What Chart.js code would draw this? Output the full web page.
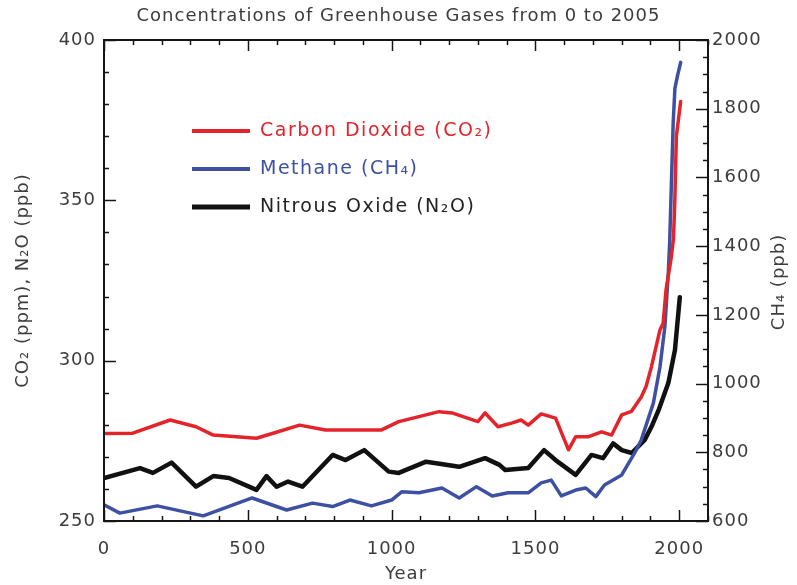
<!DOCTYPE html>
<html>
<head>
<meta charset="utf-8">
<title>Concentrations of Greenhouse Gases from 0 to 2005</title>
<script src="https://cdn.jsdelivr.net/npm/chart.js@4.4.1/dist/chart.umd.min.js"></script>
<style>
  html, body { margin: 0; padding: 0; background: #fff; }
  #wrap { width: 797px; height: 585px; }
</style>
</head>
<body>
<div id="wrap"><canvas id="chart" width="797" height="585"></canvas></div>
<script>
/* ── Data ── */
const co2Years  = [0, 100, 230, 320, 380, 530, 585, 680, 770, 965, 1025, 1165, 1210, 1300, 1325, 1370, 1420, 1450, 1475, 1520, 1570, 1615, 1640, 1685, 1730, 1765, 1800, 1834, 1868, 1885, 1903, 1933, 1944, 1954, 1972, 1980, 1985, 1990, 2005];
const co2Values = [277.3, 277.4, 281.5, 279.4, 276.8, 275.8, 277.3, 279.9, 278.4, 278.4, 281.0, 284.1, 283.7, 281.0, 283.7, 279.4, 280.6, 281.5, 279.9, 283.4, 282.1, 272.2, 276.3, 276.3, 277.8, 276.8, 283.1, 284.2, 288.7, 292, 298, 309.6, 311.7, 322, 332, 338, 351, 370, 380.8];

const ch4Years  = [0, 55, 185, 345, 515, 635, 725, 795, 855, 930, 1000, 1035, 1095, 1175, 1235, 1295, 1350, 1405, 1475, 1520, 1555, 1590, 1640, 1675, 1710, 1740, 1800, 1845, 1868, 1910, 1933, 1950, 1962, 1967, 1972, 1979, 1985, 1995, 2005];
const ch4Values = [647, 623, 644, 615, 667, 632, 652, 642, 661, 644, 661, 685, 682, 696, 667, 700, 673, 682, 682, 711, 719, 673, 690, 696, 671, 705, 734, 798, 836, 943, 1048, 1165, 1322, 1418, 1560, 1760, 1860, 1900, 1935];

const n2oYears  = [0, 125, 170, 235, 320, 380, 435, 530, 565, 600, 640, 690, 795, 840, 905, 990, 1025, 1120, 1235, 1325, 1375, 1395, 1475, 1530, 1570, 1640, 1695, 1735, 1770, 1800, 1835, 1880, 1903, 1930, 1962, 1985, 2002];
const n2oValues = [263.4, 266.5, 265, 268.2, 260.7, 264, 263.4, 259.7, 264, 260.7, 262.3, 260.7, 270.6, 269, 272.1, 265.4, 265, 268.5, 266.9, 269.6, 267.5, 265.9, 266.5, 272.1, 269, 264.4, 270.6, 269.6, 274.2, 272.1, 271.2, 275.3, 279.3, 285, 293, 303.3, 319.8];

const seriesLabels = ['Carbon Dioxide (CO₂)', 'Methane (CH₄)', 'Nitrous Oxide (N₂O)'];
const yearRange = [0, 2100];
const yearTicks = [0, 500, 1000, 1500, 2000];
const leftRange = [250, 400];
const leftTicks = [250, 300, 350, 400];
const rightRange = [600, 2000];
const rightTicks = [600, 800, 1000, 1200, 1400, 1600, 1800, 2000];

/* ── Look ── */
const FONT = "'DejaVu Sans', sans-serif";
const TEXT = '#3c3c3c';
const COLORS = { co2: '#e3242b', ch4: '#3e50a2', n2o: '#111111' };

const toPoints = (xs, ys) => xs.map((x, i) => ({ x, y: ys[i] }));
const fixedTicks = values => scale => { scale.ticks = values.map(value => ({ value })); };
const plain = v => String(v);

/* widen the glyphs a little, like the plotted Hershey font */
const spacing = {
  id: 'spacing',
  beforeDraw(chart) { chart.ctx.letterSpacing = '1px'; }
};

/* frame + inward tick marks, placed through the scales */
const frameTicks = {
  id: 'frameTicks',
  afterDatasetsDraw(chart) {
    const { ctx, chartArea: a, scales } = chart;
    const seg = (x1, y1, x2, y2) => { ctx.beginPath(); ctx.moveTo(x1, y1); ctx.lineTo(x2, y2); ctx.stroke(); };
    ctx.save();
    ctx.strokeStyle = '#151515';
    ctx.lineWidth = 1.5;
    for (let v = yearRange[0]; v <= yearRange[1]; v += 100) {
      const px = Math.round(scales.x.getPixelForValue(v)) + 0.5;
      const len = v % 500 === 0 ? 11 : 5;
      seg(px, a.bottom, px, a.bottom - len);
      seg(px, a.top, px, a.top + len);
    }
    for (let v = leftRange[0]; v <= leftRange[1]; v += 10) {
      const py = Math.round(scales.y.getPixelForValue(v)) + 0.5;
      seg(a.left, py, a.left + (v % 50 === 0 ? 12 : 5), py);
    }
    for (let v = rightRange[0]; v <= rightRange[1]; v += 50) {
      const py = Math.round(scales.y1.getPixelForValue(v)) + 0.5;
      seg(a.right, py, a.right - (v % 200 === 0 ? 12 : 5), py);
    }
    ctx.lineWidth = 2;
    ctx.strokeRect(a.left, a.top, a.right - a.left, a.bottom - a.top);
    ctx.restore();
  }
};

/* legend inside the plot + right axis title (reads bottom to top) */
const insideLegend = {
  id: 'insideLegend',
  afterDraw(chart) {
    const { ctx } = chart;
    ctx.save();
    ctx.font = `19px ${FONT}`;
    ctx.letterSpacing = '1.5px';
    ctx.textBaseline = 'middle';
    chart.data.datasets.forEach((ds, i) => {
      const y = 131 + i * 38;
      ctx.strokeStyle = ds.borderColor;
      ctx.lineWidth = ds.borderWidth + 0.5;
      ctx.beginPath(); ctx.moveTo(192, y); ctx.lineTo(250, y); ctx.stroke();
      ctx.fillStyle = ds.borderColor === COLORS.n2o ? '#222' : ds.borderColor;
      ctx.fillText(ds.label, 260, y);
    });
    ctx.font = `18px ${FONT}`;
    ctx.letterSpacing = '1px';
    ctx.translate(779, 282);
    ctx.rotate(-Math.PI / 2);
    ctx.textAlign = 'center';
    ctx.fillStyle = TEXT;
    ctx.fillText('CH₄ (ppb)', 0, 0);
    ctx.restore();
  }
};

const line = (label, data, color, axis, width) => ({
  label, data, yAxisID: axis,
  borderColor: color, backgroundColor: color,
  borderWidth: width, pointRadius: 0, tension: 0, fill: false,
  borderJoinStyle: 'round', borderCapStyle: 'round'
});

const tickFont = { family: FONT, size: 18 };
const titleFont = { family: FONT, size: 18, lineHeight: 1.2 };

new Chart(document.getElementById('chart'), {
  type: 'line',
  data: {
    datasets: [
      line(seriesLabels[0], toPoints(co2Years, co2Values), COLORS.co2, 'y', 3.5),
      line(seriesLabels[1], toPoints(ch4Years, ch4Values), COLORS.ch4, 'y1', 3.5),
      line(seriesLabels[2], toPoints(n2oYears, n2oValues), COLORS.n2o, 'y', 4.5)
    ]
  },
  options: {
    responsive: false,
    devicePixelRatio: 1,
    animation: false,
    layout: { padding: 0 },
    plugins: {
      legend: { display: false },
      tooltip: { enabled: false },
      title: {
        display: true,
        text: 'Concentrations of Greenhouse Gases from 0 to 2005',
        color: TEXT,
        font: { family: FONT, size: 18, weight: 'normal', lineHeight: 1.2 },
        padding: { top: 6, bottom: 12.4 }
      }
    },
    scales: {
      x: {
        type: 'linear',
        min: yearRange[0], max: yearRange[1],
        afterBuildTicks: fixedTicks(yearTicks),
        afterFit: s => { s.height = 64; },
        grid: { display: false, drawTicks: false },
        border: { display: false },
        ticks: { padding: 18, color: TEXT, font: tickFont, maxRotation: 0, callback: plain },
        title: { display: true, text: 'Year', color: TEXT, font: titleFont, padding: { top: 0, bottom: 0 } }
      },
      y: {
        position: 'left',
        min: leftRange[0], max: leftRange[1],
        afterBuildTicks: fixedTicks(leftTicks),
        afterFit: s => { s.width = 104; },
        grid: { display: false, drawTicks: false },
        border: { display: false },
        ticks: { padding: 8, color: TEXT, font: tickFont, callback: plain },
        title: { display: true, text: 'CO₂ (ppm), N₂O (ppb)', color: TEXT, font: titleFont, padding: { top: 13, bottom: 0 } }
      },
      y1: {
        position: 'right',
        min: rightRange[0], max: rightRange[1],
        afterBuildTicks: fixedTicks(rightTicks),
        afterFit: s => { s.width = 89; },
        grid: { display: false, drawTicks: false },
        border: { display: false },
        ticks: { padding: 4, color: TEXT, font: tickFont, callback: plain }
      }
    }
  },
  plugins: [spacing, frameTicks, insideLegend]
});
</script>
</body>
</html>
